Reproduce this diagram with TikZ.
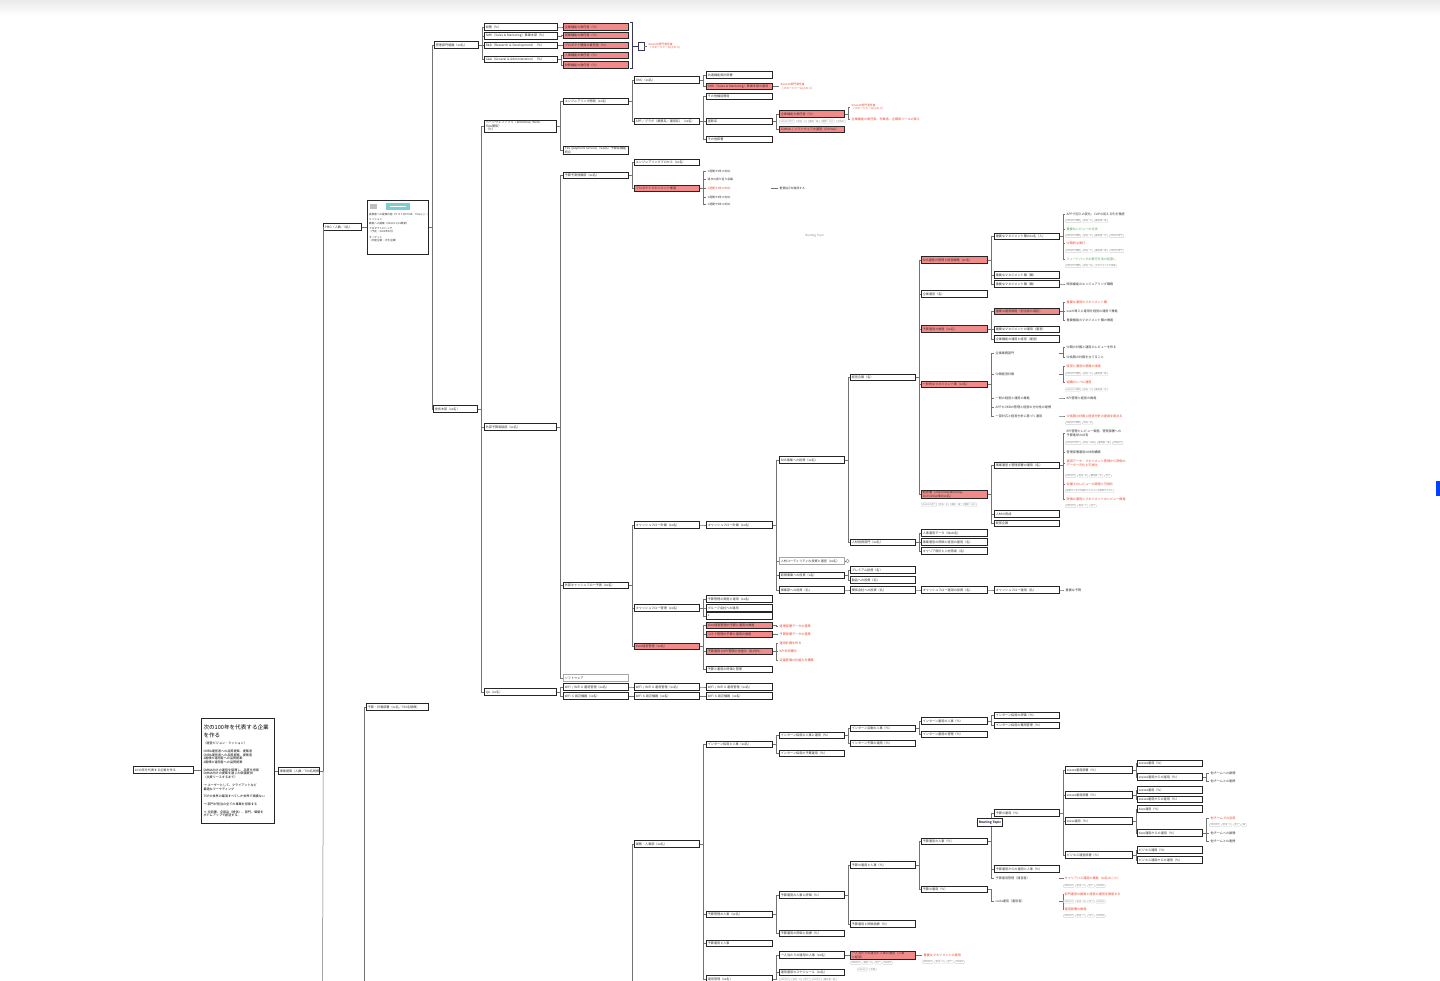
\documentclass[tikz,border=0pt]{standalone}
\usepackage{fontspec}
\newfontfamily\jp{Noto Sans CJK JP}
\definecolor{salmon}{RGB}{242,138,138}
\definecolor{rtxt}{RGB}{232,70,45}
\definecolor{gtxt}{RGB}{80,165,80}
\definecolor{tealc}{RGB}{125,205,212}
\definecolor{brk}{RGB}{55,55,95}
\definecolor{navy}{RGB}{40,40,90}
\newcommand\jpf{\jp\fontsize{3.1}{3.7}\selectfont}
\newcommand\cnx[2]{\draw[ln] (#1.east) -- ++(3.5,0) |- (#2.west);}
\newcommand\cnxs[2]{\foreach \nn in {#2}{\cnx{#1}{\nn}}}
\newcommand\tagrow[3]{\coordinate (#1-0) at (#2);\foreach \tgt [count=\ti, remember=\ti as \tl (initially 0)] in {#3}{\node[tg, xshift=1.2pt] (#1-\ti) at (#1-\tl.east) {\tgt};}}
\tikzset{
  bx/.style={draw=black!85, line width=0.75pt, fill=white, anchor=west, minimum height=6.4pt, text width=#1pt, align=left, inner xsep=1.5pt, inner ysep=0.7pt, font=\jpf, text=black!80},
  bx/.default=62,
  rbx/.style={bx=#1, fill=salmon},
  rbx/.default=62,
  tx/.style={anchor=west, text width=#1pt, align=left, inner xsep=1.5pt, inner ysep=0.4pt, font=\jpf, text=black!80},
  tx/.default=62,
  rtx/.style={tx=#1, text=rtxt}, rtx/.default=62,
  gtx/.style={tx=#1, text=gtxt}, gtx/.default=62,
  tg/.style={draw=black!18, rounded corners=0.8pt, anchor=west, inner xsep=1.2pt, inner ysep=0.5pt, text=black!50, font=\jp\fontsize{2.2}{2.6}\selectfont},
  ln/.style={draw=black!55, line width=0.5pt},
}
\begin{document}
\begin{tikzpicture}[x=1pt,y=-1pt]
\useasboundingbox (0,0) rectangle (1440,980);
\fill[white] (0,0) rectangle (1440,980);
\shade[top color=black!8, bottom color=white] (0,0) rectangle (1440,16);

% ---------- root ----------
\node[bx=57] (root) at (133,770) {2030年を代表する企業を作る};
\node[draw=black!85, line width=1pt, fill=white, anchor=north west, text width=69pt, align=left, inner xsep=2pt, inner ysep=3pt, minimum height=105pt, font=\jpf] (vis) at (201,718)
{{\fontsize{5.6}{7.4}\selectfont 次の100年を代表する企業\\を作る\par}\vspace{4pt}
（経営ビジョン・ミッション）\par\vspace{4pt}
CMRA運営者への品質提案、提案者\\
CMRA運営者への品質提案、提案者\\
2国債の運用者への品質提案\\
2国債の運用者への品質提案\par\vspace{4pt}
DMMA向けの運用を保障し、品質を担保\\
DMMA向けの提案を通じた価値提供\\
（出資リースするまで）\par\vspace{4pt}
→ ユーザーとして、クライアントなど\\
最適なマーケティング\par\vspace{4pt}
TOPの世界の最高すべてしか世界で実績ない\par\vspace{4pt}
→ 部門が担当の全ての事業を担保する\par\vspace{4pt}
※ 全部署、全部品（提供）、部門、価値を\\
ボトムアップで創造する。};
\node[bx=38] (biz) at (278,771) {事業提案（人数／700名規模）};
\draw[ln] (root.east) -- (root.east -| vis.west);
\draw[ln] (vis.east) -- (biz.west);

\node[bx=35] (pmo) at (323,227) {PMO（人数／3名）};
\draw[ln] (biz.east) -- ++(3.5,0) coordinate (bizv);
\coordinate (bizoff) at (322.5,990);
\draw[ln] (bizv) |- (pmo.west);
\draw[ln] (bizv) -- (bizoff);

\node[draw=black!85, line width=0.9pt, fill=white, anchor=north west, minimum width=61pt, minimum height=54pt, inner sep=0] (img) at (367,200) {};
\draw[ln] (pmo.east) -- (pmo.east -| img.west);
\fill[black!25] (370,204) rectangle (377,209);
\fill[tealc] (386,203) rectangle (410,210);
\draw[white, line width=0.6pt] (390,206.5) -- (406,206.5);
\node[tx=58, anchor=north west, font=\jp\fontsize{2.6}{3.4}\selectfont] (imgt) at (367.5,212.5)
{提携者への提案内容（ゲスト向けURL：https://…）\par\vspace{2pt}
ミッション\\ 顧客への提案（2022/11/15更新）\par\vspace{2pt}
プロダクトローンチ\\ （予定：2023年4月）\par\vspace{2pt}
ターゲット\\ （中堅企業・大手企業）};

% ---------- top group ----------
\node[bx=41] (A1) at (434,45) {管理部門組織（xx名）};
\node[bx=41] (T0) at (433,409) {技術本部（xx名）};
\cnx{img}{A1}
\cnx{img}{T0}
\node[bx=70] (A2) at (484,27) {総務（\%）};
\node[bx=70] (A3) at (484,36) {SMK（Sales \& Marketing）事業本部（\%）};
\node[bx=70] (A4) at (484,45.5) {R\&D（Research \& Development）（\%）};
\node[bx=70] (A5) at (484,59.5) {G\&A（General \& Administration）（\%）};
\cnxs{A1}{A2,A3,A4,A5}
\node[rbx] (Ra) at (563,27) {企業機能の責任者（\%）};
\node[rbx] (Rb) at (563,35.5) {営業機能の責任者（\%）};
\node[rbx] (Rc) at (563,45.5) {プロダクト開発の責任者（\%）};
\node[rbx] (Rd) at (563,55.5) {人事機能の責任者（\%）};
\node[rbx] (Re) at (563,65) {財務機能の責任者（\%）};
\cnx{A2}{Ra}
\cnx{A3}{Rb}
\cnx{A4}{Rc}
\cnxs{A5}{Rd,Re}
\draw[brk, line width=0.9pt] (629.5,22) -- (632,22) -- (632,68) -- (629.5,68);
\coordinate (brm) at (632,46);
\node[draw=brk, line width=0.9pt, fill=white, minimum width=6pt, minimum height=8pt, inner sep=0, anchor=west] (sq) at (637.5,46) {};
\draw[brk, line width=0.5pt] (brm) -- (sq.west);
\node[rtx=60, font=\jp\fontsize{2.8}{3.4}\selectfont] (rn0) at (647,46) {Xxxxxの部門責任者\\（マネージャー以上の人）};
\draw[ln] (sq.east) -- (rn0.west);

% ---------- technology ----------
\node[bx=69] (T1) at (484,126) {ページウェブアプリ（Workflow, Workflow関係）\\（\%）};
\node[bx=69] (T2) at (484,427) {外部予算相談部（xx名）};
\node[bx=69] (T3) at (484,692) {QA（xx名）};
\cnxs{T0}{T1,T2,T3}
\node[bx] (U1) at (563,101.5) {エンジニアリング開発（xx名）};
\node[bx] (U2) at (563,150) {FSS (payment service)（SaaS）予算系機能\\統合};
\node[bx] (U3) at (563,175.5) {予算予測信頼部（xx名）};
\node[bx] (U4) at (563,585.5) {外部キャッシュフロー予測（xx名）};
\node[bx, draw=black!35] (U5) at (563,678) {ソフトウェア};
\node[bx] (U6) at (563,687) {WiFi / WiFi 6 運用管理（xx名）};
\node[bx] (U7) at (563,696) {WiFi 6 周辺機器（xx名）};
\cnxs{T1}{U1,U2}
\cnxs{T2}{U3,U4,U5}
\cnxs{T3}{U6,U7}

\node[bx] (V1) at (634,80) {OMC（xx名）};
\node[bx] (V2) at (634,121.5) {APP / プラグ（業務系／運用系）（xx名）};
\cnxs{U1}{V1,V2}
\node[bx=63] (W1) at (706,75) {共通機能設計部署};
\node[rbx=63] (W2) at (706,86.5) {SMK（Sales \& Marketing）事業本部の運用};
\cnxs{V1}{W1,W2}
\node[rtx=60, font=\jp\fontsize{2.8}{3.4}\selectfont] (rt1) at (779,86.5) {Xxxxxの部門責任者\\（マネージャー以上の人）};
\cnx{W2}{rt1}
\node[bx=63] (W3) at (706,96.5) {その他機能開発};
\node[bx=63] (W4) at (706,121.5) {基幹系};
\node[bx=63] (W5) at (706,139.5) {その他部署};
\cnxs{V2}{W3,W4,W5}
\node[rbx] (X1) at (779,114) {企業機能の責任者（\%）};
\node[rbx] (X2) at (779,129.5) {GitHub / ソフトウェアの運用（GitHub）};
\cnxs{W4}{X1,X2}
\tagrow{tgx}{778,121.5}{2023/10 完了,担当：A,優先：高,期限：12/1,対応中}
\node[rtx=60, font=\jp\fontsize{2.8}{3.4}\selectfont] (rt2) at (850,107) {Xxxxxの部門責任者\\（マネージャー以上の人）};
\node[rtx=80] (rt3) at (850,119) {企業機能の責任者、作業者、企画部ツールの導入};
\cnxs{X1}{rt2,rt3}

\node[bx] (Y1) at (634,162.5) {エンジニアリングプロセス（xx名）};
\node[rbx] (Y2) at (634,188.5) {プロダクトマネジメント推進};
\cnxs{U3}{Y1,Y2}
\node[tx=62, font=\jp\fontsize{2.8}{3.3}\selectfont] (z1) at (706,171) {1週間で2件の対応};
\node[tx=62, font=\jp\fontsize{2.8}{3.3}\selectfont] (z2) at (706,179) {週次の振り返り会議};
\node[rtx=62, font=\jp\fontsize{2.8}{3.3}\selectfont] (z3) at (706,188) {1週間で3件の対応};
\node[tx=62, font=\jp\fontsize{2.8}{3.3}\selectfont] (z4) at (706,197) {1週間で4件の対応};
\node[tx=62, font=\jp\fontsize{2.8}{3.3}\selectfont] (z5) at (706,204.5) {1週間で5件の対応};
\cnxs{Y2}{z1,z2,z3,z4,z5}
\node[tx=50, font=\jp\fontsize{2.8}{3.3}\selectfont] (zz) at (778,188) {重要指示を確認する};
\draw[ln] (z3.east) -- (zz.west);
\node[tx=30, text=black!50, font=\jp\fontsize{2.8}{3.3}\selectfont] (rtp1) at (804,236) {Routing Topic};

% ---------- cash flow ----------
\node[bx] (C1) at (634,525) {キャッシュフロー計画（xx名）};
\node[bx] (C2) at (634,608) {キャッシュフロー管理（xx名）};
\node[rbx] (C3) at (634,646.5) {Xxxx経営管理（xx名）};
\cnxs{U4}{C1,C2,C3}
\node[bx=63] (C1b) at (706,525) {キャッシュフロー計画（xx名）};
\cnx{C1}{C1b}
\node[bx] (D1) at (779,460) {SNS事業への投資（xx名）};
\node[bx, draw=black!35] (D2) at (779,561) {人材ユーティリティの投資と運営（xx名）};
\node[bx] (D3) at (779,575.5) {新規事業への投資（x名）};
\node[bx] (D4) at (779,590) {事業部への投資（名）};
\cnxs{C1b}{D1,D2,D3,D4}
\node[circle, draw=black!40, line width=0.5pt, inner sep=0, minimum size=3.5pt, anchor=west] (D2c) at (845.5,561) {};
\draw[ln] (D2.east) -- (D2c.west);
\node[bx] (E1) at (850,377.5) {経営企画（名）};
\node[bx] (E2) at (850,542.5) {人材投資部門（xx名）};
\cnxs{D1}{E1,E2}
\node[bx] (E3) at (850,570) {プレミアム投資（名）};
\node[bx] (E4) at (850,580) {製品への投資（名）};
\cnxs{D3}{E3,E4}
\node[bx] (E5) at (850,590) {関係会社への投資（名）};
\cnx{D4}{E5}
\node[bx=63] (F5) at (921,590) {キャッシュフロー運用の投資（名）};
\cnx{E5}{F5}
\node[bx] (G5) at (994,590) {キャッシュフロー運用（名）};
\cnx{F5}{G5}
\node[tx=40] (G5t) at (1064,590) {重要な予算};
\cnx{G5}{G5t}

\node[rbx=63] (F1) at (921,260) {SNS運営の管理と経営戦略（xx名）};
\node[bx=63] (F2) at (921,294) {企業運営（名）};
\node[rbx=63] (F3) at (921,329) {予算運営の推進（xx名）};
\node[rbx=63] (F4) at (921,384.5) {一般的なマネジメント業（xx名）};
\node[rbx=63] (F6) at (921,494.5) {経営層（2022/04以降のxx名、\\2023/10以降のxx名）};
\cnxs{E1}{F1,F2,F3,F4,F6}
\tagrow{tgf6}{919.8,504.5}{2023/10 完了,担当：B,優先：高,期限：11/1}
\node[bx=63] (F7) at (921,533) {人事運用データ（Web名）};
\node[bx=63] (F8) at (921,542) {事業運営の評価と経営の運用（名）};
\node[bx=63] (F9) at (921,551) {キャリア設計と人材育成（名）};
\cnxs{E2}{F7,F8,F9}

\node[bx] (G1) at (994,236.5) {重要なマネジメント職のxx名（人）};
\node[bx] (G2) at (994,275) {重要なマネジメント職（職）};
\node[bx] (G3) at (994,284) {重要なマネジメント職（職）};
\cnxs{F1}{G1,G2,G3}
\node[tx=80] (h1) at (1065,214) {APPで記入の変化、CAPの見える化を徹底};
\node[gtx] (h2) at (1065,229) {重要なレビューの方法};
\node[rtx] (h3) at (1065,243.5) {中期的な実行};
\node[gtx=80] (h4) at (1065,259) {フィードバックの実行方法の見直し};
\cnxs{G1}{h1,h2,h3,h4}
\tagrow{tg1}{1064,221}{2023/12 中期,担当：A,優先度：高}
\tagrow{tg2}{1064,236}{2023/12 中期,担当：A,優先度：中,2024/3 完了}
\tagrow{tg3}{1064,251}{2023/12 中期,担当：C,優先度：高,2024/3 完了}
\tagrow{tg4}{1064,266}{2023/12 中期,担当：B,マネジメントの改善}
\node[tx=80] (h5) at (1065,284) {関係機能のエンジニアリング職務};
\cnx{G3}{h5}

\node[rbx] (G4) at (994,311.5) {重要な運用推進（担当者の選定）};
\node[bx] (G6) at (994,329.5) {重要なマネジメントの運用（運営）};
\node[bx] (G7) at (994,339) {企業機能の運用と経営（運営）};
\cnxs{F3}{G4,G6,G7}
\node[rtx] (h6) at (1065,302) {重要な運用のマネジメント職};
\node[tx=80] (h7) at (1065,311) {xxxの導入と運用を経営の運用で推進};
\node[tx=80] (h8) at (1065,320) {重要機能のマネジメント職の推進};
\cnxs{G4}{h6,h7,h8}

\node[tx] (k1) at (994,353) {企業業務部門};
\node[tx] (k2) at (994,374.5) {中期経営計画};
\node[tx] (k3) at (994,398) {一般の経営と運用の推進};
\node[tx=75] (k4) at (994,407) {APPとOKRの管理と経営の方向性の連携};
\node[tx] (k5) at (994,416) {一部対応と経営方針に基づく運用};
\cnxs{F4}{k1,k2,k3,k4,k5}
\node[tx=80] (m1) at (1065,347.5) {中期の計画と運用のレビューを作る};
\node[tx=80] (m2) at (1065,357) {中長期の計画を立てること};
\cnxs{k1}{m1,m2}
\node[rtx] (m3) at (1065,366.5) {経営と運営の意識の浸透};
\node[rtx] (m4) at (1065,382) {組織のレベル運用};
\cnxs{k2}{m3,m4}
\tagrow{tg5}{1064,374}{2023/12 中期,担当：A,優先度：高}
\tagrow{tg6}{1064,389.5}{2023/12 中期,担当：A,優先度：中}
\node[tx=60] (m5) at (1065,398) {KPI管理と経営の推進};
\cnx{k3}{m5}
\node[rtx=80] (m6) at (1065,416) {中長期の計画と経営方針の達成を進める};
\cnx{k5}{m6}
\tagrow{tg7}{1064,423}{2023/12 中期,担当：B}

\node[bx] (G8) at (994,465.5) {事業運営と管理部署の運用（名）};
\node[bx] (G9) at (994,514) {人材の育成};
\node[bx] (G10) at (994,523.5) {経営企画};
\cnxs{F6}{G8,G9,G10}
\node[tx=80] (n1) at (1065,433.5) {KPI管理とレビュー実施、管理部署への\\予算進捗の共有};
\node[tx=80] (n2) at (1065,452) {管理部署運用の体制構築};
\node[rtx=80] (n3) at (1065,463.5) {運用データ・マネジメント管理から評価の\\データ一元化と可視化};
\node[rtx=80] (n4) at (1065,484) {会議でのレビューの実施と可視化};
\node[rtx=80] (n5) at (1065,499) {評価の運用とマネジメントのレビュー推進};
\cnxs{G8}{n1,n2,n3,n4,n5}
\tagrow{tg8}{1064,443}{2023/10 完了,担当：A\&B,優先度：高,2023/12}
\tagrow{tg9}{1064,476}{2023/10,担当：B,優先度：中,完了}
\tagrow{tg10}{1064,491}{経営データの可視化とレビューの運用サイクル}
\tagrow{tg11}{1064,506}{2023/10,担当：C,完了}

\node[bx=63] (C2a) at (706,599) {予算管理の実施と運用（xx名）};
\node[bx=63] (C2b) at (706,608) {グループ会社への運用};
\node[bx=63] (C2c) at (706,616) {x};
\cnxs{C2}{C2a,C2b,C2c}
\node[rbx=63] (C3a) at (706,625.5) {Xxxx経営管理の予算と運用の推進};
\node[rbx=63] (C3b) at (706,634.5) {コスト管理の予算と運用の推進};
\node[rbx=63] (C3c) at (706,651.5) {予算運用とKPI管理の仕組み（社内PJ）};
\node[bx=63] (C3d) at (706,669.5) {予算と運用の評価と管理};
\cnxs{C3}{C3a,C3b,C3c,C3d}
\node[rtx=60] (ca1) at (778,626) {経理部署データの基準};
\cnx{C3a}{ca1}
\node[rtx=60] (cb1) at (778,634.5) {予算部署データの基準};
\cnx{C3b}{cb1}
\node[rtx=60] (cc1) at (778,643) {運用計画を作る};
\node[rtx=60] (cc2) at (778,651.5) {KPIを明確化};
\node[rtx=60] (cc3) at (778,660) {定量評価の仕組みを構築};
\cnxs{C3c}{cc1,cc2,cc3}

\node[bx] (U6b) at (634,687) {WiFi / WiFi 6 運用管理（xx名）};
\node[bx=63] (U6c) at (706,687) {WiFi / WiFi 6 運用管理（xx名）};
\node[bx] (U7b) at (634,696) {WiFi 6 周辺機器（xx名）};
\node[bx=63] (U7c) at (706,696) {WiFi 6 周辺機器（xx名）};
\cnx{U6}{U6b}
\cnx{U6b}{U6c}
\cnx{U7}{U7b}
\cnx{U7b}{U7c}

% ---------- bottom ----------
\node[bx=59] (P1) at (366,707) {予算・計画部署（xx名／700名規模）};
\coordinate (p1off) at (364,990);
\draw[ln] (p1off) |- (P1.west);
\node[bx] (B0) at (634,844) {業務・人事部（xx名）};
\coordinate (b0off) at (632,990);
\draw[ln] (b0off) |- (B0.west);
\node[bx=63] (B1) at (706,744.5) {インターン採用と人事（xx名）};
\node[bx=63] (B2) at (706,914.5) {予算管理の人事（xx名）};
\node[bx=63] (B3) at (706,943.5) {予算運用と人事};
\node[bx=63] (B4) at (706,979) {運用管理（xx名）};
\cnxs{B0}{B1,B2,B3,B4}
\node[bx] (B11) at (779,735.5) {インターン採用の人事と運用（\%）};
\node[bx] (B12) at (779,753.5) {インターン採用の予算運用（\%）};
\cnxs{B1}{B11,B12}
\node[bx] (B111) at (850,728.5) {インターン活動の人事（\%）};
\node[bx] (B112) at (850,743.5) {インターン予算の運用（\%）};
\cnxs{B11}{B111,B112}
\node[bx=63] (B1111) at (921,721) {インターン運用の人事（\%）};
\node[bx=63] (B1112) at (921,734.5) {インターン運用の管理（\%）};
\cnxs{B111}{B1111,B1112}
\node[bx] (B11111) at (994,715.5) {インターン採用の評価（\%）};
\node[bx] (B11112) at (994,725.5) {インターン採用の費用管理（\%）};
\cnxs{B1111}{B11111,B11112}

\node[bx] (B21) at (779,895) {予算運用の人事と評価（\%）};
\node[bx] (B22) at (779,933.5) {予算運用の評価と指標（\%）};
\cnxs{B2}{B21,B22}
\node[bx] (B211) at (850,865) {予算の運用と人事（\%）};
\node[bx] (B212) at (850,924) {予算運用と評価指標（\%）};
\cnxs{B21}{B211,B212}
\node[bx=63] (B2111) at (921,841.5) {予算運営の人事（\%）};
\node[bx=63] (B2112) at (921,889.5) {予算の運用（\%）};
\cnxs{B211}{B2111,B2112}
\node[bx] (Q1) at (994,813) {予算の運用（\%）};
\node[bx] (Q2) at (994,869) {予算運営からの運用と人事（\%）};
\node[tx] (q3) at (994,878) {予算運用管理（運営者）};
\cnxs{B2111}{Q1,Q2,q3}
\node[tx] (q4) at (994,901) {coda運用（運営者）};
\cnx{B2112}{q4}
\node[draw=black!85, line width=0.8pt, fill=white, text=navy, font=\jp\bfseries\fontsize{3.2}{3.8}\selectfont, inner sep=1.5pt, minimum height=8pt, anchor=west] (rtb) at (977,822.5) {Routing Topic};

\node[bx=64] (R1q) at (1065,770) {xxxxxx運用部署（\%）};
\node[bx=64] (R2q) at (1065,795) {xxxxxx運用部署（\%）};
\node[bx=64] (R3q) at (1065,821) {xxxxx運用（\%）};
\node[bx=64] (R4q) at (1065,855) {ビジネス運営部署（\%）};
\cnxs{Q1}{R1q,R2q,R3q,R4q}
\node[bx] (S1) at (1137,763.5) {xxxxxx運用（\%）};
\node[bx] (S2) at (1137,777) {xxxxxx運用からの運用（\%）};
\cnxs{R1q}{S1,S2}
\node[bx] (S3) at (1137,790) {xxxxxx運用（\%）};
\node[bx] (S4) at (1137,799.5) {xxxxxx運用からの運用（\%）};
\cnxs{R2q}{S3,S4}
\node[bx] (S5) at (1137,809) {Xxxx運用（\%）};
\node[bx] (S6) at (1137,833) {Xxxx運用からの運用（\%）};
\cnxs{R3q}{S5,S6}
\node[bx] (S7) at (1137,850) {ビジネス運用（\%）};
\node[bx] (S8) at (1137,860) {ビジネス運用からの運用（\%）};
\cnxs{R4q}{S7,S8}
\node[tx=40] (s2a) at (1209,773) {他チームへの展開};
\node[tx=40] (s2b) at (1209,781) {他チームとの連携};
\cnxs{S2}{s2a,s2b}
\node[rtx=40] (s6a) at (1209,818) {他チームでの活用};
\node[tx=40] (s6b) at (1209,833) {他チームへの展開};
\node[tx=40] (s6c) at (1209,841) {他チームとの連携};
\cnxs{S6}{s6a,s6b,s6c}
\tagrow{tg12}{1208,825}{2023/10,担当：A,完了,高}

\node[rtx=80] (q3a) at (1063,878) {キャリアパス運用の推進（xx名のこと）};
\cnx{q3}{q3a}
\tagrow{tg13}{1062,886}{2023/10,担当：A,完了,2024/1}
\node[rtx=80] (q4a) at (1063,894) {部門運営の推進と経営の運用を推進する};
\node[rtx=60] (q4b) at (1063,909) {運用部署の推進};
\cnxs{q4}{q4a,q4b}
\tagrow{tg14}{1062,901.5}{2023/10,担当：B,完了,2024/1}
\tagrow{tg15}{1062,916}{2023/10,担当：C,完了,2024/1}

\node[bx] (B41) at (779,955) {一人当たりの運用の人事（xx名）};
\node[bx] (B42) at (779,972.5) {運用運営のスケジュール（xx名）};
\cnxs{B4}{B41,B42}
\node[rbx] (B411) at (850,955) {一人当たりの運用と人事の運営（人事\\と経営）};
\cnx{B41}{B411}
\tagrow{tgb1}{849,963}{2023/10,担当：A,完了,2024/1}
\tagrow{tgb2}{856,969.5}{2023/12,中期}
\node[rtx=60] (b4r) at (922,955) {重要なマネジメントの運用};
\cnx{B411}{b4r}
\tagrow{tgb3}{921,962}{2023/10,担当：A,完了,2024/1}
\tagrow{tgb4}{778,979.5}{2023/10,担当：A,完了,2024/1,優先度：高}

\fill[blue!75!cyan] (1436,481) rectangle (1441,496);
\end{tikzpicture}
\end{document}
